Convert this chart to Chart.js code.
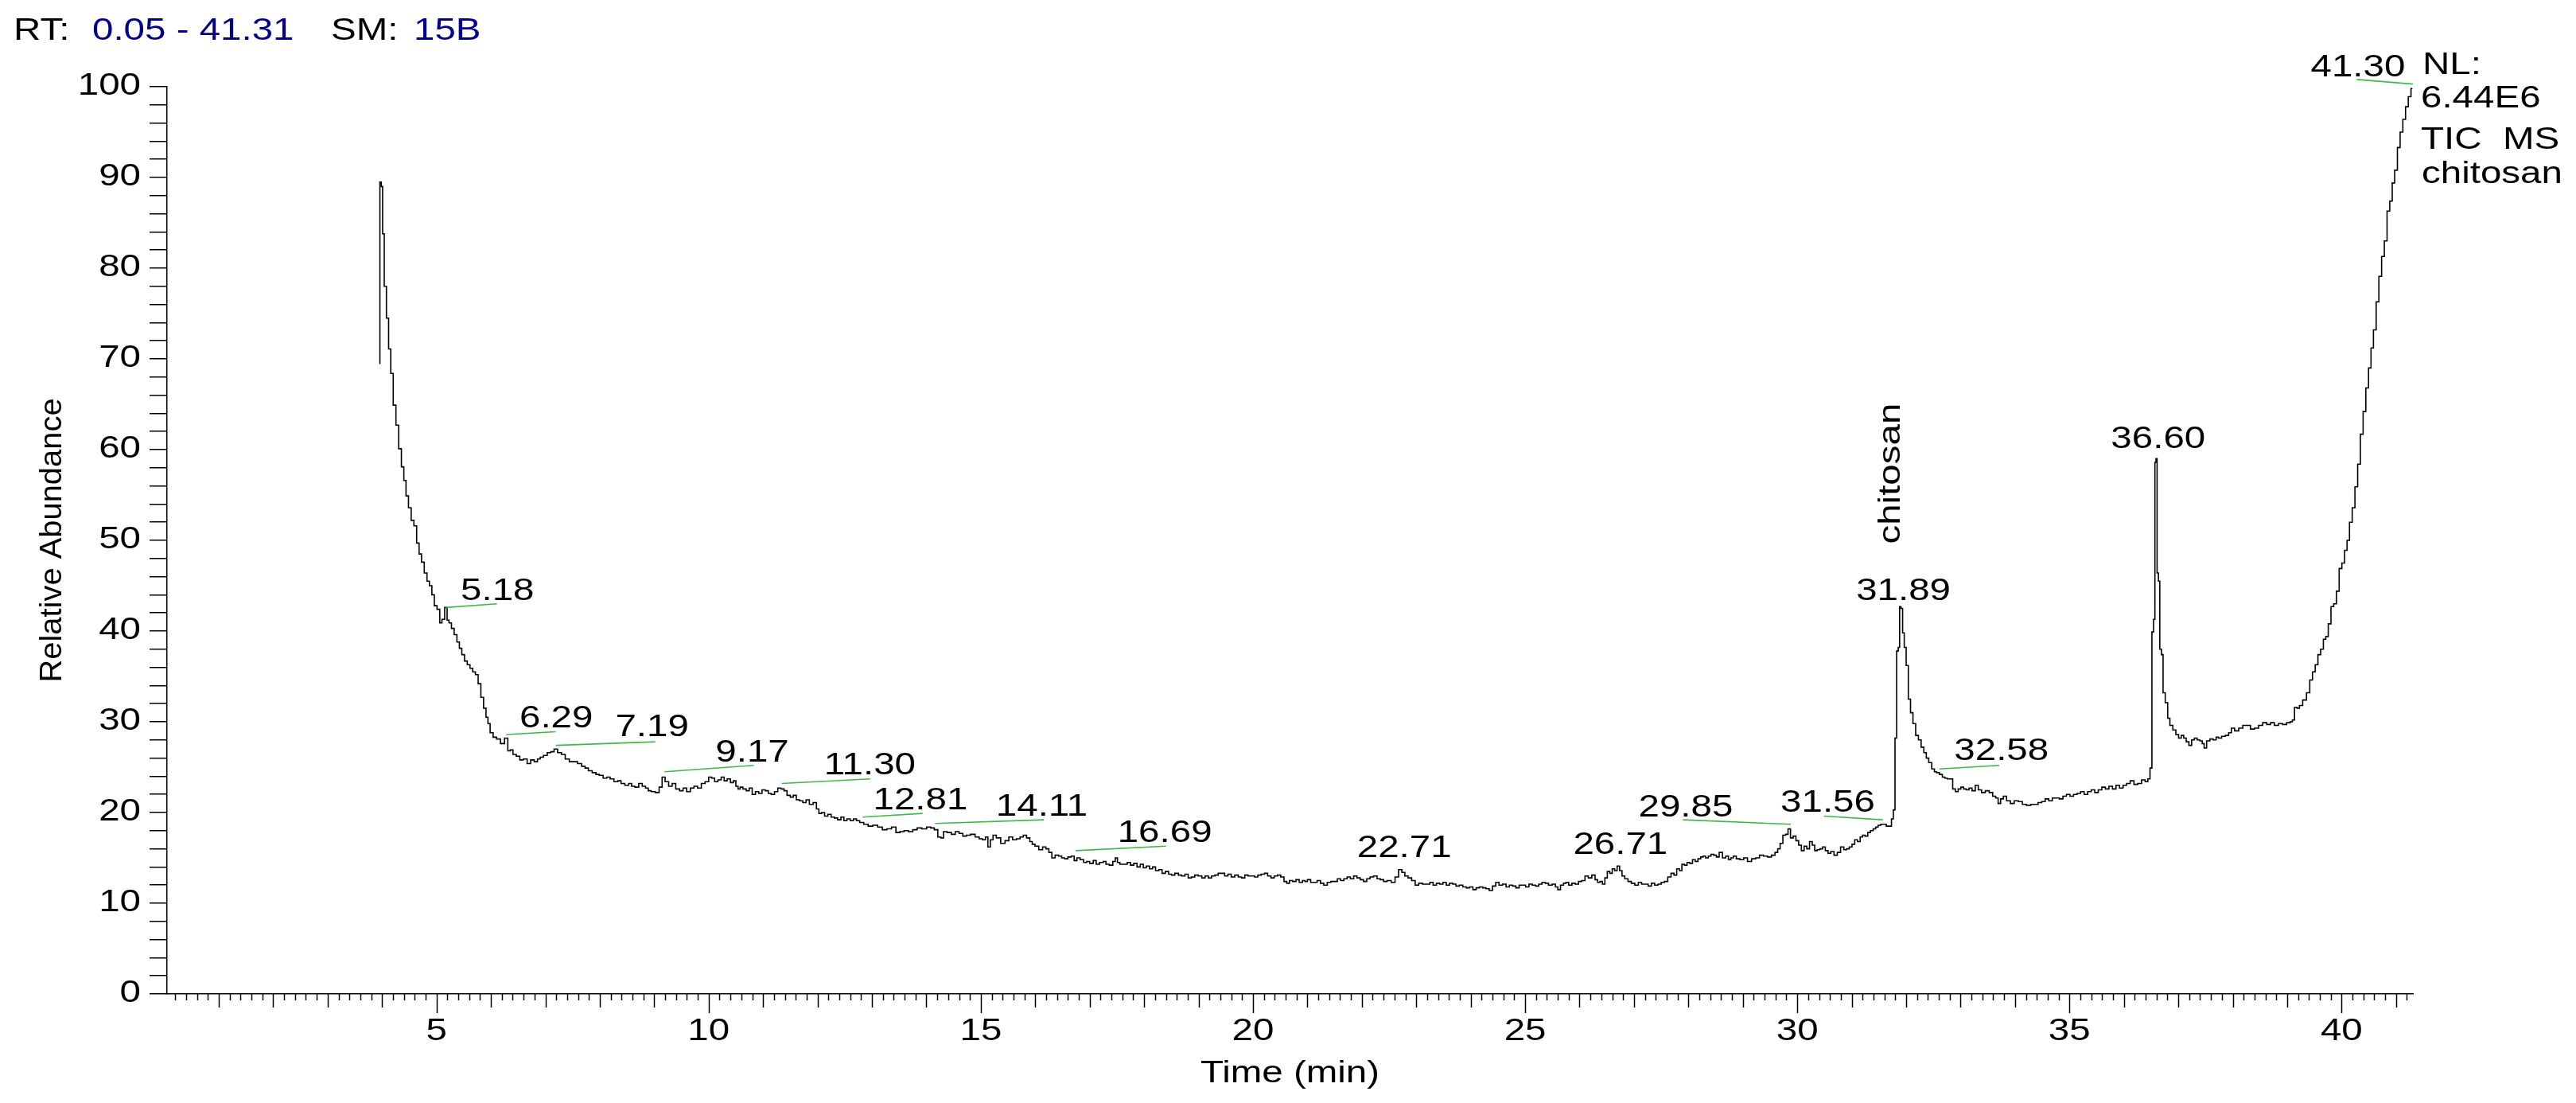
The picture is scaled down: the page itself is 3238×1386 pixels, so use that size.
<!DOCTYPE html>
<html>
<head>
<meta charset="utf-8">
<title>TIC MS chitosan</title>
<script src="https://cdn.jsdelivr.net/npm/chart.js@4.4.1/dist/chart.umd.min.js"></script>
<style>
  html, body { margin: 0; padding: 0; background: #fff; }
  canvas { display: block; }
</style>
</head>
<body>
<canvas id="chrom" width="3238" height="1386"></canvas>
<script>
// TIC trace: [retention time (min), relative abundance (%)]
const tic = [
  [3.95,69.5],[3.97,89.5],[4.00,89.0],[4.02,83.8],[4.06,78.0],[4.10,74.5],[4.14,71.1],[4.18,68.4],
  [4.23,64.9],[4.28,62.7],[4.33,60.1],[4.38,58.1],[4.42,56.6],[4.46,54.9],[4.51,53.6],[4.56,52.2],
  [4.61,51.6],[4.66,49.7],[4.70,48.5],[4.75,47.6],[4.80,46.4],[4.85,45.5],[4.89,45.0],[4.94,44.0],
  [4.98,42.8],[5.04,42.4],[5.08,40.9],[5.12,41.3],[5.18,42.6],[5.21,41.2],[5.25,40.9],[5.30,40.3],
  [5.35,39.6],[5.40,38.8],[5.44,38.1],[5.49,37.4],[5.54,36.7],[5.59,36.3],[5.64,35.9],[5.69,35.5],
  [5.74,35.2],[5.79,34.2],[5.84,32.7],[5.89,31.5],[5.93,30.5],[5.96,29.8],[6.01,28.8],[6.07,28.3],
  [6.14,28.1],[6.21,27.6],[6.29,28.2],[6.33,26.8],[6.38,26.9],[6.43,26.4],[6.50,26.2],[6.56,25.8],
  [6.63,25.9],[6.70,25.4],[6.76,25.8],[6.83,25.6],[6.88,25.9],[6.93,26.1],[7.00,26.3],[7.07,26.6],
  [7.13,26.7],[7.19,27.0],[7.26,26.6],[7.33,26.4],[7.40,25.9],[7.48,25.6],[7.55,25.6],[7.63,25.4],
  [7.70,25.1],[7.76,24.9],[7.82,24.6],[7.90,24.4],[7.96,24.2],[8.02,24.1],[8.10,23.8],[8.16,23.9],
  [8.22,23.7],[8.30,23.4],[8.36,23.5],[8.42,23.2],[8.50,23.0],[8.56,23.2],[8.61,22.9],[8.68,22.8],
  [8.75,23.2],[8.81,22.9],[8.87,22.7],[8.91,22.4],[8.98,22.3],[9.06,22.2],[9.12,22.8],[9.17,23.9],
  [9.23,23.4],[9.30,22.9],[9.36,23.2],[9.43,22.6],[9.50,22.4],[9.56,22.7],[9.63,22.3],[9.70,22.7],
  [9.76,22.9],[9.83,22.7],[9.90,23.2],
  [9.97,23.4],[10.03,23.9],[10.08,23.8],[10.14,23.4],[10.20,23.6],[10.26,23.9],[10.31,23.5],[10.37,23.7],
  [10.43,23.3],[10.48,23.5],[10.52,22.9],[10.56,22.6],[10.60,22.8],[10.66,22.6],[10.72,22.4],[10.77,22.7],
  [10.83,22.0],[10.89,22.3],[10.95,22.1],[11.01,22.5],[11.07,22.4],[11.12,22.1],[11.18,22.0],[11.24,22.3],
  [11.30,22.7],[11.36,22.6],[11.41,22.4],[11.47,21.9],[11.53,21.7],[11.58,21.9],[11.64,21.4],[11.70,21.3],
  [11.76,21.1],[11.82,21.4],[11.88,20.9],[11.96,21.1],[12.00,20.4],[12.05,19.9],[12.10,20.0],[12.16,19.6],
  [12.22,19.8],[12.28,19.5],[12.34,19.4],[12.40,19.2],[12.46,19.5],[12.51,19.1],[12.57,19.3],[12.63,19.1],
  [12.69,19.3],[12.74,19.1],[12.81,18.9],[12.89,18.7],[12.97,18.5],[13.06,18.6],[13.15,18.4],[13.23,18.1],
  [13.32,18.2],[13.40,18.4],[13.48,17.8],[13.55,17.9],[13.63,18.0],[13.71,17.9],[13.79,18.1],[13.87,18.3],
  [13.96,18.2],[14.05,18.4],[14.11,18.3],[14.18,18.1],[14.24,17.3],[14.29,17.2],[14.34,17.9],[14.42,17.8],
  [14.50,17.6],[14.56,17.9],[14.64,17.7],[14.70,17.4],[14.77,17.5],[14.85,17.6],[14.94,17.3],[15.00,17.1],
  [15.06,17.0],[15.11,17.3],[15.15,16.2],[15.20,17.0],[15.25,17.5],[15.32,17.2],[15.41,16.6],[15.48,16.9],
  [15.55,17.3],[15.62,17.0],[15.69,17.1],[15.75,17.3],[15.81,17.5],[15.87,17.2],[15.93,16.8],[15.96,16.5],
  [16.03,16.3],[16.10,15.9],[16.17,16.2],[16.22,16.0],[16.28,15.6],[16.33,15.0],[16.40,15.3],[16.46,15.2],
  [16.51,15.0],[16.57,14.9],[16.63,15.1],[16.69,15.2],[16.74,14.7],[16.79,15.0],[16.86,14.8],[16.92,14.5],
  [16.97,14.6],[17.03,14.4],[17.10,14.7],[17.14,14.3],[17.22,14.5],[17.28,14.6],[17.32,14.3],[17.40,14.2],
  [17.45,14.6],[17.49,15.0],[17.53,14.5],[17.58,14.3],[17.66,14.3],[17.72,14.5],[17.78,14.2],[17.84,14.4],
  [17.90,14.0],[17.96,14.3],[18.01,13.9],[18.07,14.1],[18.13,13.8],[18.18,14.0],[18.24,13.6],[18.30,13.7],
  [18.36,13.3],[18.42,13.5],[18.48,13.2],[18.53,13.1],[18.60,13.3],[18.66,13.1],[18.72,13.0],[18.78,13.2],
  [18.84,12.8],[18.90,12.9],
  [18.96,13.1],[19.03,13.0],[19.09,12.8],[19.15,13.0],[19.21,12.8],[19.27,13.0],[19.33,13.1],[19.39,13.3],
  [19.45,13.3],[19.51,13.0],[19.57,13.2],[19.63,12.9],[19.70,13.1],[19.76,12.9],[19.82,12.8],[19.88,13.1],
  [19.94,13.0],[20.00,13.0],[20.06,12.9],[20.12,13.1],[20.18,13.2],[20.24,13.3],[20.30,13.0],[20.36,12.8],
  [20.42,13.0],[20.48,13.1],[20.54,12.9],[20.60,12.4],[20.64,12.2],[20.70,12.5],[20.76,12.4],[20.82,12.6],
  [20.88,12.3],[20.94,12.5],[20.97,12.4],[21.03,12.6],[21.09,12.3],[21.15,12.3],[21.21,12.5],[21.27,12.2],
  [21.33,12.0],[21.40,12.3],[21.46,12.4],[21.52,12.4],[21.58,12.7],[21.64,12.5],[21.70,12.7],[21.76,12.9],
  [21.82,12.7],[21.88,13.0],[21.94,12.8],[22.00,12.6],[22.06,12.4],[22.12,12.7],[22.18,12.9],[22.25,13.0],
  [22.31,12.7],[22.37,12.6],[22.43,12.4],[22.50,12.5],[22.58,12.3],[22.64,12.9],[22.71,13.7],[22.76,13.4],
  [22.82,13.0],[22.88,12.8],[22.95,12.5],[23.01,12.0],[23.08,12.2],[23.15,12.1],[23.22,12.1],[23.28,12.3],
  [23.34,12.0],[23.40,12.2],[23.46,12.1],[23.52,12.3],[23.58,12.0],[23.64,12.2],[23.70,12.1],[23.76,11.9],
  [23.82,12.0],[23.89,11.8],[23.95,11.7],[24.01,11.8],[24.07,11.5],[24.13,11.7],[24.19,11.8],[24.25,11.7],
  [24.31,11.6],[24.37,11.4],[24.43,11.9],[24.49,12.3],[24.55,12.0],[24.62,12.1],[24.68,11.8],[24.74,12.0],
  [24.80,11.9],[24.86,11.7],[24.92,12.0],[24.98,12.0],[25.04,11.8],[25.10,12.1],[25.16,12.0],[25.22,11.9],
  [25.28,12.1],[25.34,12.3],[25.40,12.2],[25.46,12.0],[25.53,12.1],[25.58,11.8],[25.62,11.5],[25.68,12.0],
  [25.73,12.2],[25.77,12.3],[25.83,12.0],[25.89,12.2],[25.95,12.1],[26.01,12.4],[26.07,12.5],[26.13,13.0],
  [26.19,12.8],[26.26,13.1],[26.31,12.6],[26.35,12.3],[26.40,12.4],[26.44,12.1],[26.49,12.8],[26.53,13.5],
  [26.58,13.3],[26.62,13.8],[26.67,13.6],[26.71,14.1],[26.76,13.6],[26.80,13.0],[26.86,12.7],[26.92,12.4],
  [26.98,12.2],[27.05,12.0],[27.11,12.3],[27.17,12.1],[27.23,12.1],[27.29,11.9],[27.35,12.2],[27.41,12.0],
  [27.47,12.1],[27.53,12.3],[27.59,12.4],
  [27.65,12.9],[27.71,13.3],[27.76,13.1],[27.81,13.8],[27.86,13.6],[27.90,14.3],[27.95,14.2],[28.00,14.5],
  [28.05,14.4],[28.10,14.8],[28.15,14.6],[28.20,14.9],[28.25,15.1],[28.29,15.2],[28.34,15.0],[28.39,15.2],
  [28.44,15.4],[28.49,15.3],[28.54,15.1],[28.59,15.6],[28.66,15.0],[28.71,15.2],[28.76,14.8],[28.80,15.0],
  [28.85,15.2],[28.91,14.9],[28.98,14.8],[29.05,15.0],[29.12,14.6],[29.20,14.9],[29.27,15.0],[29.34,15.3],
  [29.42,15.2],[29.49,15.1],[29.56,15.3],[29.62,15.6],[29.66,16.0],[29.71,16.6],[29.76,17.5],[29.81,17.6],
  [29.85,18.2],[29.90,17.2],[29.95,17.4],[30.00,16.9],[30.05,16.4],[30.10,15.8],[30.15,16.3],[30.20,16.0],
  [30.25,16.8],[30.30,16.4],[30.34,15.8],[30.39,15.9],[30.44,16.0],[30.49,16.2],[30.54,15.8],[30.59,15.5],
  [30.64,15.7],[30.71,15.3],[30.76,15.6],[30.83,16.2],[30.88,15.9],[30.93,16.0],[30.98,16.2],[31.03,16.5],
  [31.08,17.0],[31.13,16.8],[31.18,17.3],[31.22,17.5],[31.27,17.4],[31.32,17.8],[31.37,18.0],[31.42,18.2],
  [31.46,18.4],[31.51,18.6],[31.56,18.7],[31.61,18.7],[31.66,18.5],[31.71,18.5],[31.75,19.3],[31.78,20.3],
  [31.81,28.2],[31.84,37.8],[31.87,38.2],[31.89,42.7],[31.92,42.5],[31.95,39.8],[31.98,38.2],[32.02,36.2],
  [32.06,32.5],[32.10,31.0],[32.15,29.8],[32.20,28.5],[32.25,28.0],[32.30,27.2],[32.35,26.6],[32.39,26.0],
  [32.44,25.5],[32.50,24.8],[32.54,24.5],[32.58,24.4],[32.64,24.2],[32.69,23.9],[32.73,23.8],[32.78,23.7],
  [32.83,23.7],[32.88,22.6],[32.93,22.3],[32.98,22.6],[33.03,22.8],[33.08,22.6],[33.13,22.5],[33.18,22.7],
  [33.24,22.4],[33.30,23.0],[33.35,22.5],[33.42,22.2],[33.49,22.4],[33.56,22.2],[33.62,21.8],[33.67,21.6],
  [33.71,21.0],[33.76,21.5],[33.81,21.8],[33.88,21.3],[33.95,21.0],[34.02,21.3],[34.10,21.2],[34.17,20.9],
  [34.25,20.8],
  [34.33,20.9],[34.39,20.9],[34.46,21.1],[34.52,21.2],[34.59,21.5],[34.65,21.3],[34.72,21.6],[34.78,21.6],
  [34.85,21.5],[34.91,21.8],[34.98,22.0],[35.04,21.8],[35.11,22.0],[35.17,22.1],[35.24,22.3],[35.30,22.0],
  [35.37,22.3],[35.43,22.5],[35.50,22.2],[35.56,22.5],[35.63,22.8],[35.69,22.6],[35.76,22.9],[35.82,22.6],
  [35.89,23.0],[35.95,22.7],[36.02,23.0],[36.08,23.2],[36.15,23.5],[36.22,23.1],[36.29,23.2],[36.36,23.6],
  [36.42,23.4],[36.46,23.7],[36.50,24.9],[36.53,39.9],[36.56,41.3],[36.58,58.6],[36.60,59.0],[36.62,46.4],
  [36.65,45.5],[36.67,38.0],[36.71,37.4],[36.73,33.2],[36.79,32.1],[36.82,30.4],[36.87,29.6],[36.93,29.1],
  [36.98,28.6],[37.03,28.2],[37.08,28.5],[37.12,28.2],[37.17,27.8],[37.22,27.4],[37.27,28.0],[37.32,28.2],
  [37.37,28.0],[37.42,27.9],[37.46,27.6],[37.49,27.1],[37.55,27.9],[37.61,28.1],[37.67,28.0],[37.72,28.3],
  [37.76,28.2],[37.83,28.4],[37.90,28.5],[37.95,28.8],[38.00,29.3],[38.07,29.0],[38.15,29.3],[38.22,29.6],
  [38.29,29.6],[38.36,29.2],[38.44,29.3],[38.51,29.6],[38.59,29.9],[38.66,29.7],[38.73,29.9],[38.80,29.6],
  [38.88,29.8],[38.95,29.7],[39.03,29.9],[39.08,30.0],[39.11,30.2],[39.16,31.6],[39.20,31.5],[39.25,31.8],
  [39.32,32.4],[39.39,33.2],[39.44,34.6],[39.49,35.5],[39.54,36.3],[39.59,37.4],[39.64,38.0],[39.69,39.1],
  [39.73,39.4],[39.78,40.8],[39.83,42.7],[39.88,43.0],[39.93,44.4],[39.98,46.9],[40.03,47.5],[40.08,48.9],
  [40.12,50.0],[40.17,52.0],[40.22,53.6],[40.27,55.9],[40.32,58.4],[40.37,61.7],[40.42,64.2],[40.47,66.8],
  [40.52,69.0],[40.56,71.2],[40.61,73.2],[40.66,76.3],[40.71,79.1],[40.76,81.3],[40.81,83.0],[40.86,86.3],
  [40.91,87.4],[40.95,89.4],[41.00,90.8],[41.05,93.3],[41.10,95.0],[41.15,96.4],[41.20,97.8],[41.25,98.9],
  [41.30,99.8]
];

// labelled peaks (retention times)
const peakRT = [5.18, 6.29, 7.19, 9.17, 11.30, 12.81, 14.11, 16.69, 22.71, 26.71, 29.85, 31.56, 31.89, 32.58, 36.60, 41.30];

// integration baselines: [t1, level1, t2, level2]
const baselines = [
  [5.17, 42.6, 6.11, 43.0], [6.28, 28.6, 7.19, 28.9], [7.19, 27.4, 9.02, 27.8],
  [9.19, 24.5, 10.83, 25.2], [11.34, 23.2, 12.97, 23.7], [12.83, 19.5, 13.93, 19.9],
  [14.16, 18.8, 16.16, 19.2], [16.74, 15.8, 18.40, 16.3], [27.90, 19.2, 29.88, 18.7],
  [30.49, 19.6, 31.57, 19.2], [32.61, 24.8, 33.71, 25.2], [40.28, 100.8, 41.31, 100.3]
];

const xTickLabels = [5, 10, 15, 20, 25, 30, 35, 40];
const yTickLabels = [0, 10, 20, 30, 40, 50, 60, 70, 80, 90, 100];

// where each peak label sits (time, level of text centre)
const labelTime  = [6.12, 7.20, 8.96, 10.80, 12.96, 13.89, 16.12, 18.38, 22.78, 26.75, 27.95, 30.56, 31.95, 33.75, 36.63, 40.30];
const labelLevel = [44.3, 30.3, 29.3, 26.5, 25.1, 21.3, 20.6, 17.7, 16.0, 16.4, 20.5, 21.0, 44.3, 26.7, 61.1, 102.1];

const FONT = '"Liberation Sans", Arial, sans-serif';
const GREEN = '#3dba45';
const NAVY = '#00008c';

// the instrument font is drawn a bit wide, so stretch it horizontally
function txt(ctx, s, x, y, o = {}) {
  ctx.save();
  ctx.translate(x, y);
  if (o.rot) ctx.rotate(o.rot);
  ctx.scale(o.sx || 1.25, 1);
  ctx.font = (o.size || 38) + 'px ' + FONT;
  ctx.fillStyle = o.color || '#000';
  ctx.textAlign = o.align || 'left';
  ctx.textBaseline = 'middle';
  ctx.fillText(s, 0, 0);
  ctx.restore();
}

const decor = {
  id: 'decor',
  afterDatasetsDraw(chart) {
    const { ctx, scales: { x, y } } = chart;
    ctx.save();
    ctx.strokeStyle = GREEN;
    ctx.lineWidth = 1.6;
    baselines.forEach(([t1, v1, t2, v2]) => {
      ctx.beginPath();
      ctx.moveTo(x.getPixelForValue(t1), y.getPixelForValue(v1));
      ctx.lineTo(x.getPixelForValue(t2), y.getPixelForValue(v2));
      ctx.stroke();
    });
    ctx.restore();
  },
  afterDraw(chart) {
    const { ctx, chartArea, scales: { x, y } } = chart;
    const bottom = chartArea.bottom;

    // x tick marks: minor 0.2 min, medium 1 min, major 5 min
    ctx.save();
    ctx.strokeStyle = '#000';
    ctx.lineWidth = 1.5;
    x.ticks.forEach(tk => {
      const k = Math.round(tk.value * 5);
      if (Math.abs(tk.value * 5 - k) > 1e-6) return;
      const len = k % 25 === 0 ? 24 : (k % 5 === 0 ? 17 : 8);
      const px = Math.round(x.getPixelForValue(tk.value)) + 0.5;
      ctx.beginPath();
      ctx.moveTo(px, bottom);
      ctx.lineTo(px, bottom + len);
      ctx.stroke();
    });
    ctx.restore();

    xTickLabels.forEach(v => txt(ctx, String(v), x.getPixelForValue(v), bottom + 48, { align: 'center' }));
    yTickLabels.forEach(v => txt(ctx, String(v), chartArea.left - 33, y.getPixelForValue(v), { align: 'right' }));

    // axis titles
    txt(ctx, 'Time (min)', (chartArea.left + chartArea.right) / 2, bottom + 101, { align: 'center' });
    txt(ctx, 'Relative Abundance', 67, (chartArea.top + bottom) / 2, { align: 'center', rot: -Math.PI / 2, sx: 1.05 });

    // header
    txt(ctx, 'RT:', 17, 40);
    txt(ctx, '0.05 - 41.31', 116, 40, { color: NAVY });
    txt(ctx, 'SM:', 416, 40);
    txt(ctx, '15B', 520, 40, { color: NAVY });

    // normalisation block
    txt(ctx, 'NL:', 3045, 83);
    txt(ctx, '6.44E6', 3043, 125);
    txt(ctx, 'TIC  MS', 3043, 177);
    txt(ctx, 'chitosan', 3044, 220);

    // peak labels
    peakRT.forEach((rt, i) => {
      txt(ctx, rt.toFixed(2), x.getPixelForValue(labelTime[i]), y.getPixelForValue(labelLevel[i]), { align: 'center' });
    });

    // compound name above the main peak
    txt(ctx, 'chitosan', x.getPixelForValue(31.73), y.getPixelForValue(49.6), { rot: -Math.PI / 2 });
  }
};

new Chart(document.getElementById('chrom'), {
  type: 'line',
  data: {
    datasets: [{
      data: tic.map(([t, v]) => ({ x: t, y: v })),
      borderColor: '#000',
      borderWidth: 1.6,
      pointRadius: 0,
      stepped: 'middle',
      fill: false
    }]
  },
  options: {
    responsive: false,
    devicePixelRatio: 1,
    animation: false,
    events: [],
    layout: { padding: { left: 0, top: 109, right: 205, bottom: 0 } },
    plugins: { legend: { display: false }, tooltip: { enabled: false } },
    scales: {
      x: {
        type: 'linear',
        min: 0.05,
        max: 41.31,
        ticks: { display: false, stepSize: 0.2, includeBounds: false },
        grid: { display: false },
        border: { display: true, color: '#000', width: 1.5 },
        afterFit: s => { s.height = 137; }
      },
      y: {
        min: 0,
        max: 100,
        ticks: { display: false, stepSize: 2 },
        grid: { drawOnChartArea: false, drawTicks: true, tickLength: 22, color: '#000', lineWidth: 1.5 },
        border: { display: true, color: '#000', width: 1.5 },
        afterFit: s => { s.width = 210; }
      }
    }
  },
  plugins: [decor]
});
</script>
</body>
</html>
